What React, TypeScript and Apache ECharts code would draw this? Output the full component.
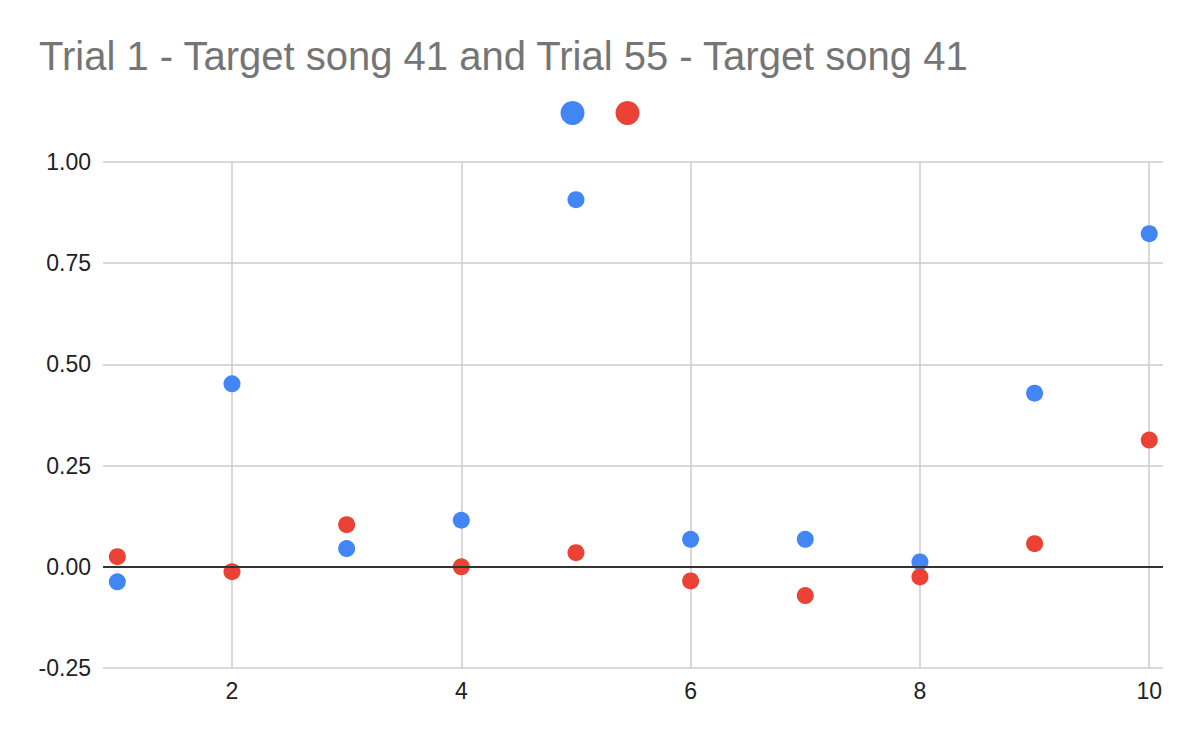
import React, { useEffect, useRef } from "react";
import * as echarts from "echarts";

const titleText = "Trial 1 - Target song 41 and Trial 55 - Target song 41";
const seriesNames = ["Trial 1 - Target song 41", "Trial 55 - Target song 41"];
const xValues = [1, 2, 3, 4, 5, 6, 7, 8, 9, 10];
const blueValues = [-0.037, 0.452, 0.045, 0.115, 0.907, 0.068, 0.068, 0.012, 0.429, 0.823];
const redValues = [0.025, -0.012, 0.104, 0.0, 0.035, -0.035, -0.071, -0.025, 0.057, 0.313];
const xTickValues = [2, 4, 6, 8, 10];
const colors = ["#4285F4", "#EA4335"];

export default function App() {
  const ref = useRef<HTMLDivElement>(null);
  useEffect(() => {
    document.body.style.margin = "0";
    if (!ref.current) return;
    const chart = echarts.init(ref.current, null, { renderer: "svg" });
    const font = "Arial, 'Liberation Sans', sans-serif";
    chart.setOption({
      animation: false,
      backgroundColor: "#ffffff",
      title: {
        text: titleText,
        left: 34,
        top: 31,
        textStyle: { color: "#757575", fontSize: 40, fontWeight: "normal", fontFamily: font },
      },
      legend: {
        left: "center",
        top: 96,
        icon: "circle",
        itemWidth: 24,
        itemHeight: 24,
        itemGap: 31,
        formatter: () => "",
        data: seriesNames,
        textStyle: { fontSize: 1 },
      },
      grid: { left: 103, right: 37, top: 162, bottom: 74, containLabel: false },
      xAxis: {
        type: "value",
        min: 0.875,
        max: 10.12,
        axisLine: { show: false },
        axisTick: { show: false, customValues: xTickValues },
        axisLabel: {
          customValues: xTickValues,
          color: "#222",
          fontSize: 23,
          fontFamily: font,
          margin: 11,
        },
        splitLine: { show: true, lineStyle: { color: "#cccccc", width: 1.5 } },
      },
      yAxis: {
        type: "value",
        min: -0.25,
        max: 1,
        interval: 0.25,
        axisLine: { show: false },
        axisTick: { show: false },
        axisLabel: {
          color: "#222",
          fontSize: 23,
          fontFamily: font,
          margin: 12,
          formatter: (v: number) => v.toFixed(2),
        },
        splitLine: { show: true, lineStyle: { color: "#cccccc", width: 1.5 } },
      },
      series: [
        {
          name: seriesNames[0],
          type: "scatter",
          symbolSize: 17,
          itemStyle: { color: colors[0], opacity: 1 },
          data: xValues.map((x, i) => [x, blueValues[i]]),
          markLine: {
            silent: true,
            symbol: "none",
            label: { show: false },
            lineStyle: { color: "#333333", width: 2, type: "solid" },
            data: [{ yAxis: 0 }],
          },
          z: 2,
        },
        {
          name: seriesNames[1],
          type: "scatter",
          symbolSize: 17,
          itemStyle: { color: colors[1], opacity: 1 },
          data: xValues.map((x, i) => [x, redValues[i]]),
          z: 3,
        },
      ],
    });
    return () => chart.dispose();
  }, []);
  return <div ref={ref} style={{ width: 1200, height: 742 }} />;
}
